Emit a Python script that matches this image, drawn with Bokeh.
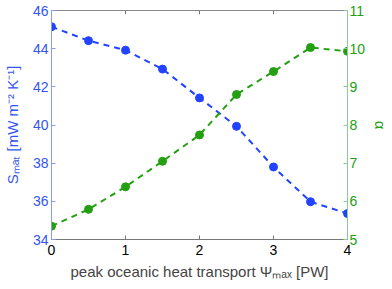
from bokeh.plotting import figure
from bokeh.models import LinearAxis, Range1d, FixedTicker
from bokeh.embed import file_html
from bokeh.resources import INLINE

psi = [0, 0.5, 1, 1.5, 2, 2.5, 3, 3.5, 4]
s_mat = [45.15, 44.42, 43.92, 42.93, 41.42, 39.93, 37.8, 35.98, 35.36]
alpha = [5.35, 5.79, 6.38, 7.05, 7.74, 8.8, 9.4, 10.03, 9.93]
x_ticks = [0, 1, 2, 3, 4]
left_ticks = [34, 36, 38, 40, 42, 44, 46]
right_ticks = [5, 6, 7, 8, 9, 10, 11]

BLUE = "#2244ff"
BLUE_T = "#3355ee"
GREEN = "#22a010"
FONT = "Liberation Sans"

W, H = 392, 286
p = figure(width=W, height=H, output_backend="svg", toolbar_location=None,
           x_range=Range1d(0, 4), y_range=Range1d(34, 46),
           min_border_left=50, min_border_top=10, min_border_right=W - 350,
           min_border_bottom=H - 239)
p.extra_y_ranges = {"a": Range1d(5, 11)}
p.xgrid.visible = False
p.ygrid.visible = False
p.outline_line_color = "#888888"
p.background_fill_color = "white"
p.border_fill_color = "white"

# bottom axis
xa = p.xaxis[0]
xa.ticker = FixedTicker(ticks=x_ticks)
xa.axis_label = "peak oceanic heat transport Ψₘₐₓ [PW]"
xa.axis_label_text_font = FONT
xa.axis_label_text_font_style = "normal"
xa.axis_label_text_font_size = "15px"
xa.axis_label_standoff = 5
xa.major_label_text_font = FONT
xa.major_label_text_font_size = "14px"
xa.major_label_text_color = "black"
xa.major_label_standoff = 5
xa.major_tick_in = 4
xa.major_tick_out = 0
xa.minor_tick_line_color = None
xa.axis_line_color = "#777777"
xa.major_tick_line_color = "#777777"

# left axis
ya = p.yaxis[0]
ya.ticker = FixedTicker(ticks=left_ticks)
ya.axis_label = "Sₘₐₜ [mW m⁻² K⁻¹]"
ya.axis_label_text_font = FONT
ya.axis_label_text_font_style = "normal"
ya.axis_label_text_font_size = "15px"
ya.axis_label_text_color = BLUE_T
ya.axis_label_standoff = 9
ya.major_label_text_font = FONT
ya.major_label_text_font_size = "14px"
ya.major_label_text_color = BLUE_T
ya.major_label_standoff = 3
ya.major_tick_in = 4
ya.major_tick_out = 0
ya.minor_tick_line_color = None
ya.axis_line_color = "#8899ff"
ya.major_tick_line_color = "#8899ff"

# right axis
ra = LinearAxis(y_range_name="a", ticker=FixedTicker(ticks=right_ticks))
ra.axis_label = "α"
ra.axis_label_text_font = FONT
ra.axis_label_text_font_style = "normal"
ra.axis_label_text_font_size = "15px"
ra.axis_label_text_color = GREEN
ra.axis_label_standoff = 4
ra.major_label_text_font = FONT
ra.major_label_text_font_size = "14px"
ra.major_label_text_color = GREEN
ra.major_label_standoff = 2
ra.major_tick_in = 4
ra.major_tick_out = 0
ra.minor_tick_line_color = None
ra.axis_line_color = "#88cc99"
ra.major_tick_line_color = "#88cc99"
p.add_layout(ra, "right")

# top tick marks
top = p.y_range.end
p.segment(x0=x_ticks[1:-1], y0=[top] * 3, x1=x_ticks[1:-1], y1=[top - 0.2] * 3,
          line_color="#777777", line_width=1)

p.line(psi, s_mat, line_color=BLUE, line_width=2, line_dash="6 5")
p.scatter(psi, s_mat, size=8, fill_color=BLUE, line_color=BLUE)
p.line(psi, alpha, line_color=GREEN, line_width=2, line_dash="6 5", y_range_name="a")
p.scatter(psi, alpha, size=8, fill_color=GREEN, line_color=GREEN, y_range_name="a")

open("out.html", "w").write(file_html(p, INLINE))
